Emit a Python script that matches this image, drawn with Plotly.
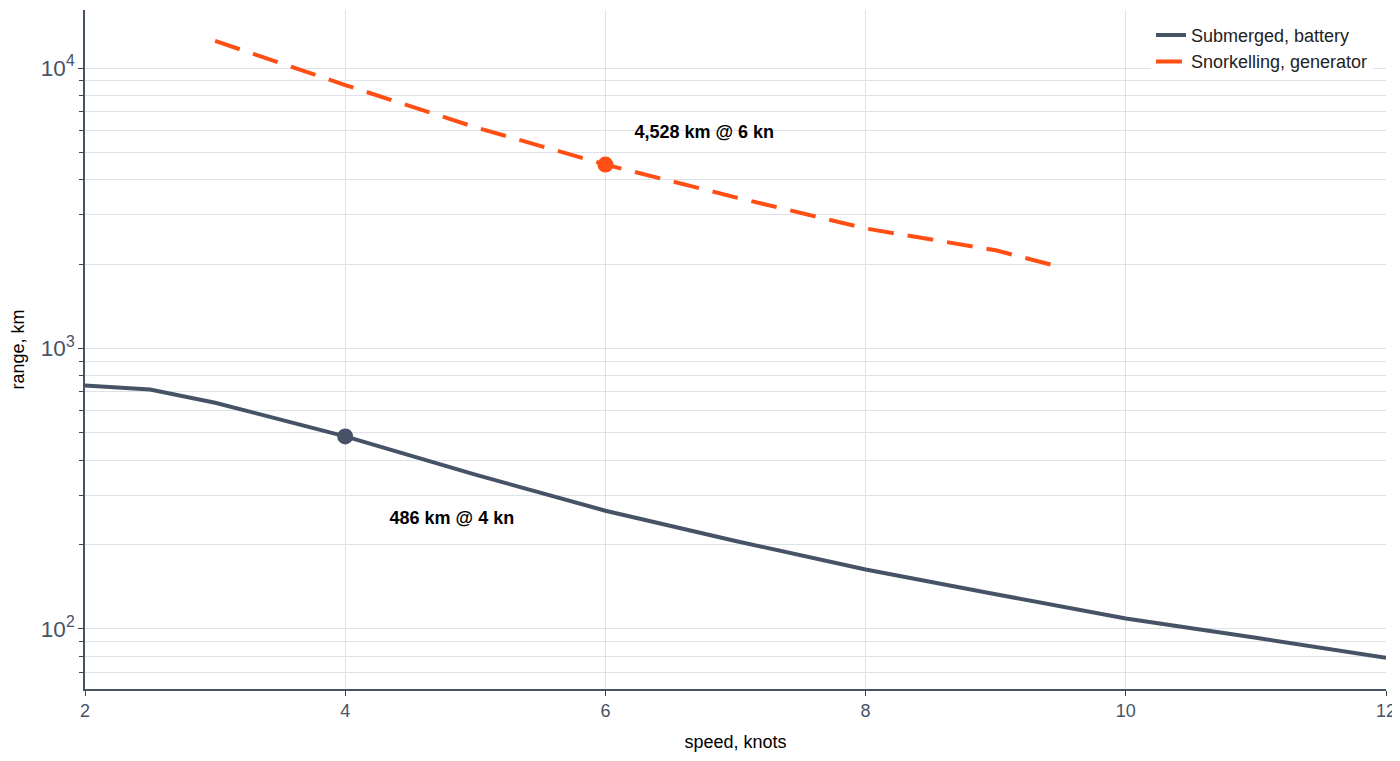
import plotly.graph_objects as go

sub_speed = [2, 2.5, 3, 4, 5, 6, 7, 8, 9, 10, 11, 12]
sub_range = [738, 714, 641, 486, 355, 264, 206, 163, 133, 109, 93, 79]

snk_speed = [3, 4, 5, 6, 7, 8, 9, 9.5]
snk_range = [12500, 8700, 6150, 4528, 3460, 2680, 2240, 1950]

mark_x = [4, 6]
mark_y = [486, 4528]
mark_colors = ["#465366", "#ff4f14"]
label_x = [4.82, 6.76]
label_y = [245, 5860]
label_text = ["<b>486 km @ 4 kn</b>", "<b>4,528 km @ 6 kn</b>"]

fig = go.Figure()
fig.add_trace(go.Scatter(x=sub_speed, y=sub_range, mode="lines", name="Submerged, battery",
                         line=dict(color="#465366", width=4)))
fig.add_trace(go.Scatter(x=snk_speed, y=snk_range, mode="lines", name="Snorkelling, generator",
                         line=dict(color="#ff4f14", width=4, dash="26px,14px")))
fig.add_trace(go.Scatter(x=mark_x, y=mark_y, mode="markers", showlegend=False,
                         marker=dict(color=mark_colors, size=16)))
fig.add_trace(go.Scatter(x=label_x, y=label_y, mode="text", text=label_text, showlegend=False,
                         textfont=dict(size=18, color="black")))

fig.update_layout(
    width=1400, height=761, plot_bgcolor="white", paper_bgcolor="white",
    margin=dict(l=77, r=22, t=2, b=80),
    font=dict(family="Liberation Sans, Arial", size=16, color="#465366"),
    legend=dict(x=0.99, y=0.99, xanchor="right", yanchor="top", font=dict(size=18, color="#222")),
)
fig.update_xaxes(range=[2, 12], dtick=2, showgrid=True, gridcolor="#dde1e8",
                 showline=True, linecolor="#465366", linewidth=1.5, ticks="outside",
                 tickfont=dict(size=18), title=dict(text="speed, knots", font=dict(size=18, color="black")))
fig.update_yaxes(type="log", range=[1.786, 4.207], dtick=1, exponentformat="power",
                 showgrid=True, gridcolor="#dde1e8",
                 minor=dict(showgrid=True, gridcolor="#dde1e8", ticks="outside", ticklen=4, dtick="D1"),
                 showline=True, linecolor="#465366", linewidth=1.5, ticks="outside",
                 tickfont=dict(size=18), title=dict(text="range, km", font=dict(size=18, color="black")))
fig.write_html("out.html")
